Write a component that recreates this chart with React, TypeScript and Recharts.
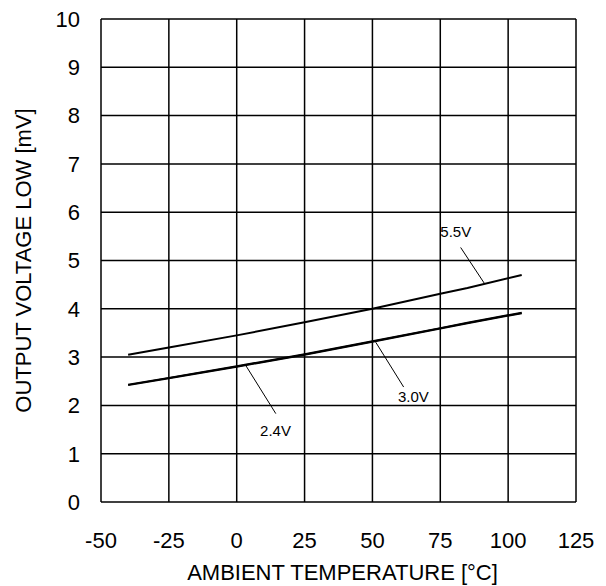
import { CartesianGrid, Line, LineChart, ReferenceDot, ReferenceLine, XAxis, YAxis } from "recharts"

const temps = [-40, -25, 0, 25, 50, 75, 85, 105]
const v55 = [3.05, 3.2, 3.45, 3.72, 4.0, 4.31, 4.43, 4.7]
const v30 = [2.43, 2.57, 2.81, 3.06, 3.33, 3.6, 3.71, 3.92]
const v24 = [2.42, 2.56, 2.8, 3.05, 3.32, 3.59, 3.7, 3.91]

const xTicks = [-50, -25, 0, 25, 50, 75, 100, 125]
const yTicks = [0, 1, 2, 3, 4, 5, 6, 7, 8, 9, 10]

// curve labels and their leader lines, in data units
const curveLabels = [
  { text: "5.5V", x: 80.7, y: 5.6 },
  { text: "3.0V", x: 65.1, y: 2.19 },
  { text: "2.4V", x: 14.3, y: 1.47 },
]
const leaders = [
  [{ x: 82.5, y: 5.27 }, { x: 91.2, y: 4.53 }],
  [{ x: 51.2, y: 3.31 }, { x: 61.5, y: 2.38 }],
  [{ x: 3.3, y: 2.83 }, { x: 14.4, y: 1.83 }],
]

const data = temps.map((t, i) => ({ t, v55: v55[i], v30: v30[i], v24: v24[i] }))

const font = "'Liberation Sans', Arial, sans-serif"

export default function App() {
  return (
    <div style={{ position: "absolute", left: 0, top: 0, fontFamily: font }}>
      <LineChart width={606} height={586} data={data} margin={{ top: 19, right: 30, left: 0, bottom: 0 }}>
        <CartesianGrid stroke="#000" strokeWidth={1.5} />
        <XAxis
          dataKey="t"
          type="number"
          domain={[-50, 125]}
          ticks={xTicks}
          height={84}
          tickLine={false}
          axisLine={false}
          tickSize={0}
          tickMargin={30}
          tick={{ fill: "#000", fontSize: 22, fontFamily: font }}
          label={{ value: "AMBIENT TEMPERATURE [°C]", position: "insideBottom", offset: 6, dx: 4, fill: "#000", fontSize: 22, fontFamily: font }}
        />
        <YAxis
          type="number"
          domain={[0, 10]}
          ticks={yTicks}
          width={101}
          tickLine={false}
          axisLine={false}
          tickSize={0}
          tickMargin={21}
          tick={{ fill: "#000", fontSize: 22, fontFamily: font }}
          label={{
            value: "OUTPUT VOLTAGE LOW [mV]",
            angle: -90,
            position: "insideLeft",
            offset: 23,
            fill: "#000",
            fontSize: 22,
            fontFamily: font,
            style: { textAnchor: "middle" },
          }}
        />
        <Line dataKey="v24" stroke="#000" strokeWidth={2} dot={false} isAnimationActive={false} />
        <Line dataKey="v30" stroke="#000" strokeWidth={2} dot={false} isAnimationActive={false} />
        <Line dataKey="v55" stroke="#000" strokeWidth={2} dot={false} isAnimationActive={false} />
        {leaders.map((seg, i) => (
          <ReferenceLine key={"l" + i} segment={seg} stroke="#000" strokeWidth={1} />
        ))}
        {curveLabels.map((l) => (
          <ReferenceDot
            key={l.text}
            x={l.x}
            y={l.y}
            r={0}
            fill="none"
            stroke="none"
            label={{ value: l.text, position: "center", fill: "#000", fontSize: 15, fontFamily: font }}
          />
        ))}
      </LineChart>
    </div>
  )
}
